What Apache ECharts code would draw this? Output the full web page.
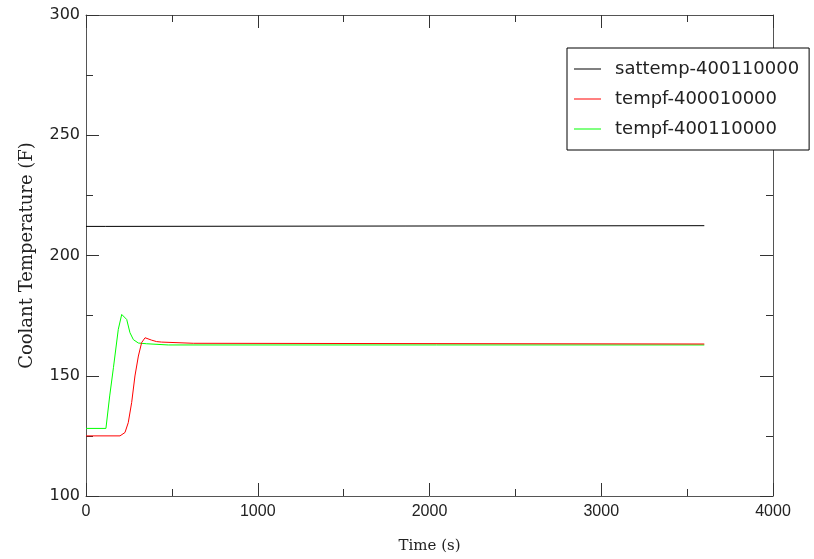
<!DOCTYPE html>
<html>
<head>
<meta charset="utf-8">
<script src="https://cdn.jsdelivr.net/npm/echarts@6/dist/echarts.min.js"></script>
<style>
  html, body { margin: 0; padding: 0; background: #fff; }
  #chart { width: 814px; height: 559px; }
</style>
</head>
<body>
<div id="chart"></div>
<script>
// series data (time in s, temperature in F)
var satTime = [0, 115, 125, 3600];
var satTemp = [212.1, 212.1, 212.4, 212.4];

var redTime = [0, 198, 227, 246, 266, 285, 305, 324, 344, 353, 382, 411, 440, 450, 625, 630, 3600];
var redTemp = [125.0, 125.0, 126.4, 130.5, 138.9, 149.9, 158.2, 163.8, 165.8, 166.2, 164.8, 164.2, 164.0, 163.5, 163.5, 163.2, 163.2];

var greenTime = [0, 116, 138, 160, 188, 208, 217, 237, 256, 276, 305, 353, 479, 3600];
var greenTemp = [128.1, 128.1, 141.6, 153.5, 169.3, 175.5, 176.2, 173.4, 167.9, 165.0, 163.6, 163.3, 162.8, 162.8];

var seriesNames = ['sattemp-400110000', 'tempf-400010000', 'tempf-400110000'];
var seriesColors = ['#000000', '#ff0000', '#00ff00'];

function pairs(t, v) {
    var out = [];
    for (var i = 0; i < t.length; i++) out.push([t[i], v[i]]);
    return out;
}

var chart = echarts.init(document.getElementById('chart'));

var axisLineStyle = { color: '#555555', width: 1 };
var tickCommon = { show: true, inside: true, length: 13, lineStyle: { color: '#333333' } };
var minorCommon = { show: true, splitNumber: 2, length: 7, lineStyle: { color: '#333333' } };

var option = {
    backgroundColor: '#ffffff',
    animation: false,
    grid: { left: 86, right: 41, top: 15, bottom: 62 },
    legend: {
        orient: 'vertical',
        left: 567,
        top: 48,
        padding: [12, 10, 12, 7],
        itemGap: 12,
        itemWidth: 27,
        itemHeight: 1,
        icon: 'rect',
        borderColor: '#000000',
        borderWidth: 1,
        backgroundColor: '#ffffff',
        textStyle: { fontFamily: 'DejaVu Sans', fontSize: 18, lineHeight: 18, color: '#222222', padding: [0, 0, 0, 9] },
        data: seriesNames
    },
    xAxis: [{
        type: 'value',
        min: 0, max: 4000, interval: 1000,
        name: 'Time (s)',
        nameLocation: 'middle',
        nameGap: 43,
        nameTextStyle: { fontFamily: 'DejaVu Serif', fontSize: 15, color: '#222222' },
        axisLine: { show: true, lineStyle: axisLineStyle },
        axisTick: tickCommon,
        minorTick: minorCommon,
        splitLine: { show: false },
        axisLabel: {
            margin: 8, fontFamily: 'Liberation Sans', fontSize: 16, color: '#222222',
            formatter: function (v) { return String(v); }
        }
    }, {
        type: 'value',
        position: 'top',
        min: 0, max: 4000, interval: 1000,
        axisLine: { show: true, onZero: false, lineStyle: axisLineStyle },
        axisTick: tickCommon,
        minorTick: minorCommon,
        splitLine: { show: false },
        axisLabel: { show: false }
    }],
    yAxis: [{
        type: 'value',
        min: 100, max: 300, interval: 50,
        name: 'Coolant Temperature (F)',
        nameLocation: 'middle',
        nameGap: 50,
        nameTextStyle: { fontFamily: 'DejaVu Serif', fontSize: 18, color: '#222222' },
        axisLine: { show: true, lineStyle: axisLineStyle },
        axisTick: tickCommon,
        minorTick: minorCommon,
        splitLine: { show: false },
        axisLabel: { margin: 6, fontFamily: 'DejaVu Sans', fontSize: 16, color: '#222222' }
    }, {
        type: 'value',
        position: 'right',
        min: 100, max: 300, interval: 50,
        axisLine: { show: true, onZero: false, lineStyle: axisLineStyle },
        axisTick: tickCommon,
        minorTick: minorCommon,
        splitLine: { show: false },
        axisLabel: { show: false }
    }],
    series: [{
        name: seriesNames[0],
        type: 'line',
        symbol: 'none',
        data: pairs(satTime, satTemp),
        lineStyle: { color: seriesColors[0], width: 1 },
        itemStyle: { color: seriesColors[0] }
    }, {
        name: seriesNames[2],
        type: 'line',
        symbol: 'none',
        data: pairs(greenTime, greenTemp),
        lineStyle: { color: seriesColors[2], width: 1 },
        itemStyle: { color: seriesColors[2] }
    }, {
        name: seriesNames[1],
        type: 'line',
        symbol: 'none',
        data: pairs(redTime, redTemp),
        lineStyle: { color: seriesColors[1], width: 1 },
        itemStyle: { color: seriesColors[1] }
    }]
};

chart.setOption(option);
</script>
</body>
</html>
